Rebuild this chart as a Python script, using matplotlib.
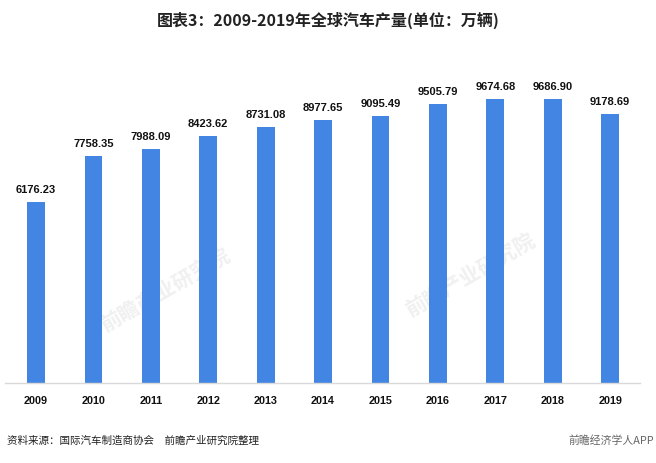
import matplotlib
matplotlib.use('Agg')
import matplotlib.pyplot as plt

plt.rcParams['font.family'] = ['Noto Sans CJK SC', 'DejaVu Sans']

years = ['2009', '2010', '2011', '2012', '2013', '2014', '2015', '2016', '2017', '2018', '2019']
output = [6176.23, 7758.35, 7988.09, 8423.62, 8731.08, 8977.65, 9095.49, 9505.79, 9674.68, 9686.90, 9178.69]

fig = plt.figure(figsize=(6.56, 4.63), dpi=100)
# axes: x 5..640 px, y 60..383 px (from top)
ax = fig.add_axes([5/656, (463-383)/463, 635/656, 323/463])
ax.patch.set_visible(False)

x = list(range(len(years)))
ax.bar(x, output, width=0.31, color='#4285e3', zorder=2)

for xi, v in zip(x, output):
	ax.annotate('%.2f' % v, (xi, v), xytext=(0, 5), textcoords='offset points',
				ha='center', va='bottom', fontsize=8, fontweight='bold',
				family=['Liberation Sans', 'DejaVu Sans'], color='#111111')

ax.set_xlim(-0.54, 10.52)
ax.set_ylim(0, 11020)
ax.set_xticks(x)
ax.set_xticklabels(years, fontsize=7.8, fontweight='bold', family=['Liberation Sans', 'DejaVu Sans'], color='#111111')
ax.tick_params(axis='x', length=0, pad=9)
ax.set_yticks([])
for s in ['top', 'right', 'left']:
	ax.spines[s].set_visible(False)
ax.spines['bottom'].set_color('#d9d9d9')
ax.spines['bottom'].set_linewidth(1)

# faint watermarks behind the bars
for (wx, wy) in [(165, 290), (470, 275)]:
	fig.text(wx/656, 1 - wy/463, '前瞻产业研究院', fontsize=15, fontweight='bold',
			 color='#f0f0f0', rotation=30, ha='center', va='center', zorder=-1)

fig.text(0.5, 1 - 20/463, '图表3：2009-2019年全球汽车产量(单位：万辆)', ha='center', va='center',
		 fontsize=11.5, fontweight='bold', color='#222222')
fig.text(7/656, 1 - 441/463, '资料来源：国际汽车制造商协会　前瞻产业研究院整理', ha='left', va='center',
		 fontsize=7.6, color='#222222')
fig.text(654/656, 1 - 441/463, '前瞻经济学人APP', ha='right', va='center',
		 fontsize=7.8, color='#666666')

fig.savefig('out.png', dpi=100)
